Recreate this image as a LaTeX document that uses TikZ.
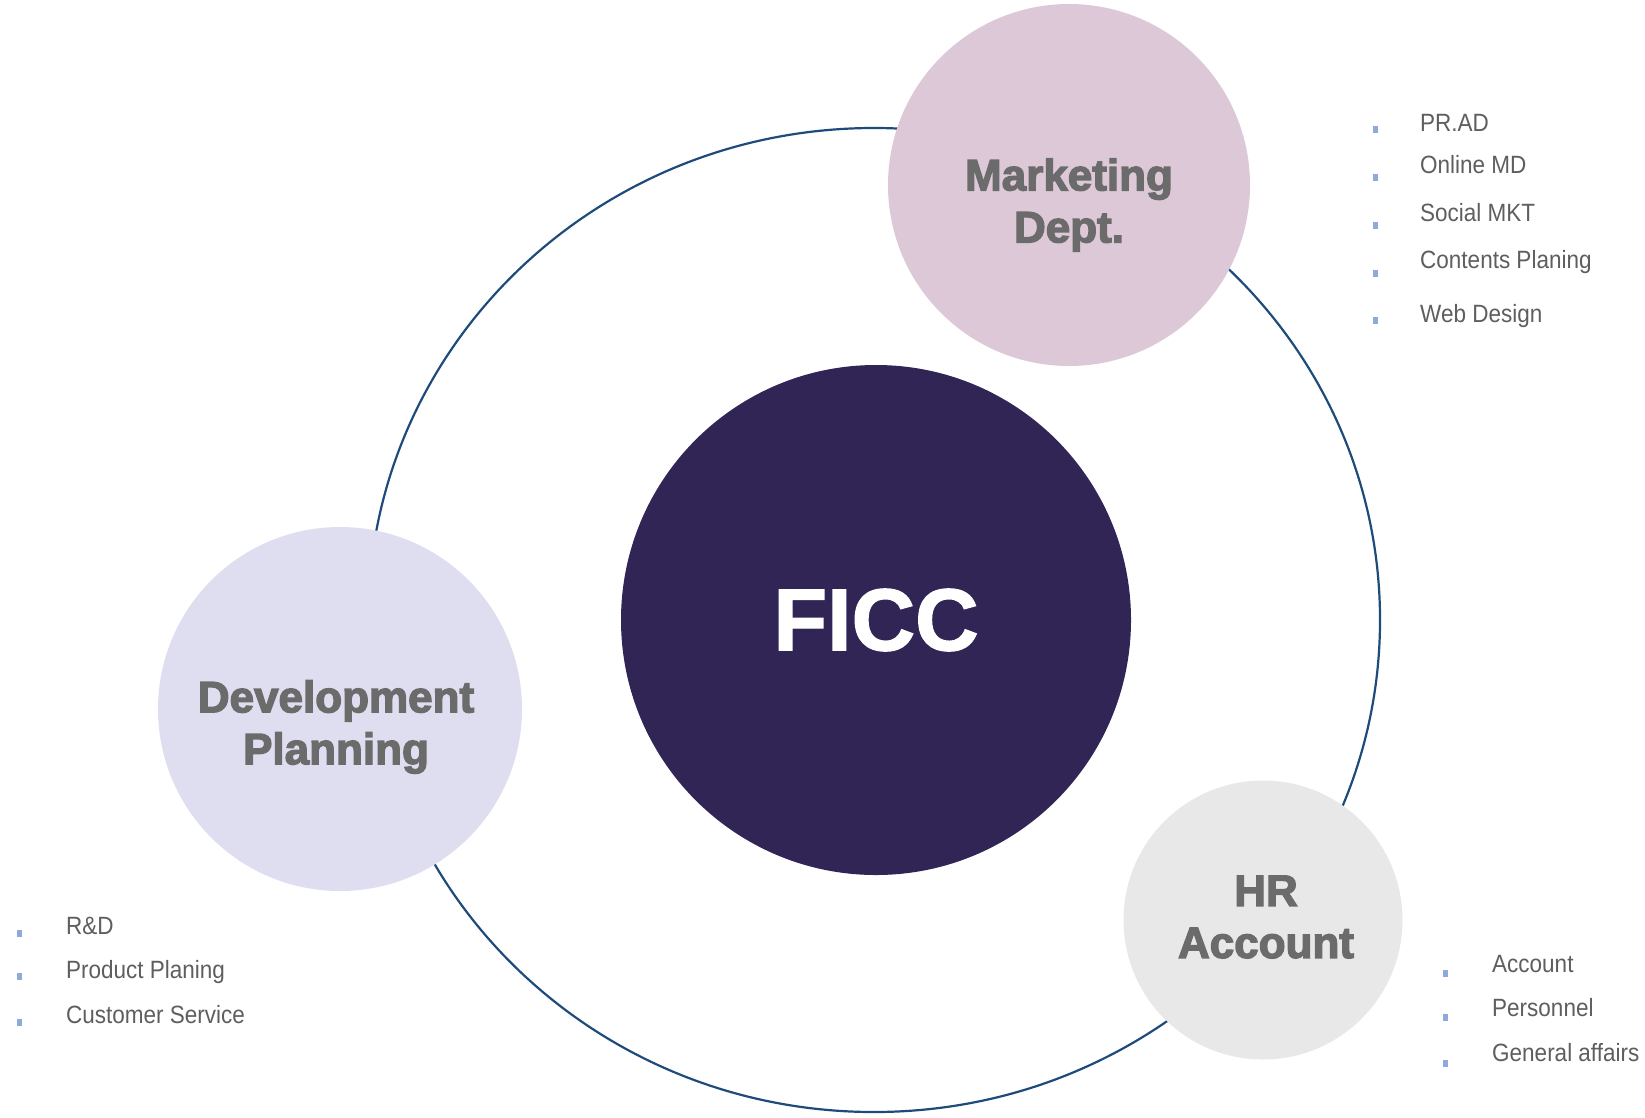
\documentclass[tikz,border=0pt]{standalone}
\usepackage{fontspec}
\setmainfont{Liberation Sans}
\newfontfamily\heavyfont{Liberation Sans}[UprightFont=* Bold, FakeBold=3]
\newfontfamily\ficcfont{Liberation Sans}[UprightFont=* Bold, FakeBold=1.5]
\newfontfamily\listfont{Liberation Sans}[FakeStretch=0.9]
\definecolor{mktpink}{HTML}{DDC8D8}
\definecolor{devlav}{HTML}{DEDEF0}
\definecolor{hrgray}{HTML}{E8E8E8}
\definecolor{ficcnavy}{HTML}{312556}
\definecolor{ringblue}{HTML}{1F4B7A}
\definecolor{labelgray}{HTML}{6B6B6B}
\definecolor{listgray}{HTML}{5E5E5E}
\definecolor{bulletblue}{HTML}{8EAADB}
\tikzset{
  deptcircle/.style={circle, inner sep=0pt, align=center, text=labelgray,
    font=\heavyfont\fontsize{44}{52}\selectfont},
  bulletsq/.style={rectangle, fill=bulletblue, inner sep=0pt, minimum width=5pt, minimum height=7pt},
  listitem/.style={anchor=base west, inner sep=0pt, text=listgray,
    font=\listfont\fontsize{25}{30}\selectfont},
}
\begin{document}
\begin{tikzpicture}[x=1pt,y=-1pt]
\useasboundingbox (0,0) rectangle (1645,1117);
% centre and ring
\coordinate (c) at (874,620);
\draw[ringblue, line width=2.2pt] (c) ellipse [x radius=506, y radius=492];
\node[circle, fill=ficcnavy, inner sep=0pt, minimum size=510pt, text=white,
  font=\ficcfont\fontsize{88}{100}\selectfont] (ficc) at (876,620) {FICC};
% departments
\node[deptcircle, fill=mktpink, minimum size=362pt] (mkt) at (1069,185) {};
\node[deptcircle, fill=devlav, minimum size=364pt] (dev) at (340,709) {};
\node[deptcircle, fill=hrgray, minimum size=279pt] (hr) at (1263,920) {};
\node[deptcircle] (mktlabel) at (1069,205) {Marketing\\Dept.};
\node[deptcircle] (devlabel) at (336,727) {Development\\Planning};
\node[deptcircle] (hrlabel) at (1266,917) {HR\\Account};
% marketing list
\node[bulletsq] (mb1) at (1375,129) {};
\node[bulletsq] (mb2) at (1375,177) {};
\node[bulletsq] (mb3) at (1375,225) {};
\node[bulletsq] (mb4) at (1375,273) {};
\node[bulletsq] (mb5) at (1375,320) {};
\node[listitem] (mt1) at (1420,131) {PR.AD};
\node[listitem] (mt2) at (1420,173) {Online MD};
\node[listitem] (mt3) at (1420,221) {Social MKT};
\node[listitem] (mt4) at (1420,268) {Contents Planing};
\node[listitem] (mt5) at (1420,322) {Web Design};
% development list
\node[bulletsq] (db1) at (19,933) {};
\node[bulletsq] (db2) at (19,976) {};
\node[bulletsq] (db3) at (19,1022) {};
\node[listitem] (dt1) at (66,934) {R\&D};
\node[listitem] (dt2) at (66,978) {Product Planing};
\node[listitem] (dt3) at (66,1023) {Customer Service};
% HR list
\node[bulletsq] (hb1) at (1445,973) {};
\node[bulletsq] (hb2) at (1445,1017) {};
\node[bulletsq] (hb3) at (1445,1063) {};
\node[listitem] (ht1) at (1492,972) {Account};
\node[listitem] (ht2) at (1492,1016) {Personnel};
\node[listitem] (ht3) at (1492,1061) {General affairs};
\end{tikzpicture}
\end{document}
